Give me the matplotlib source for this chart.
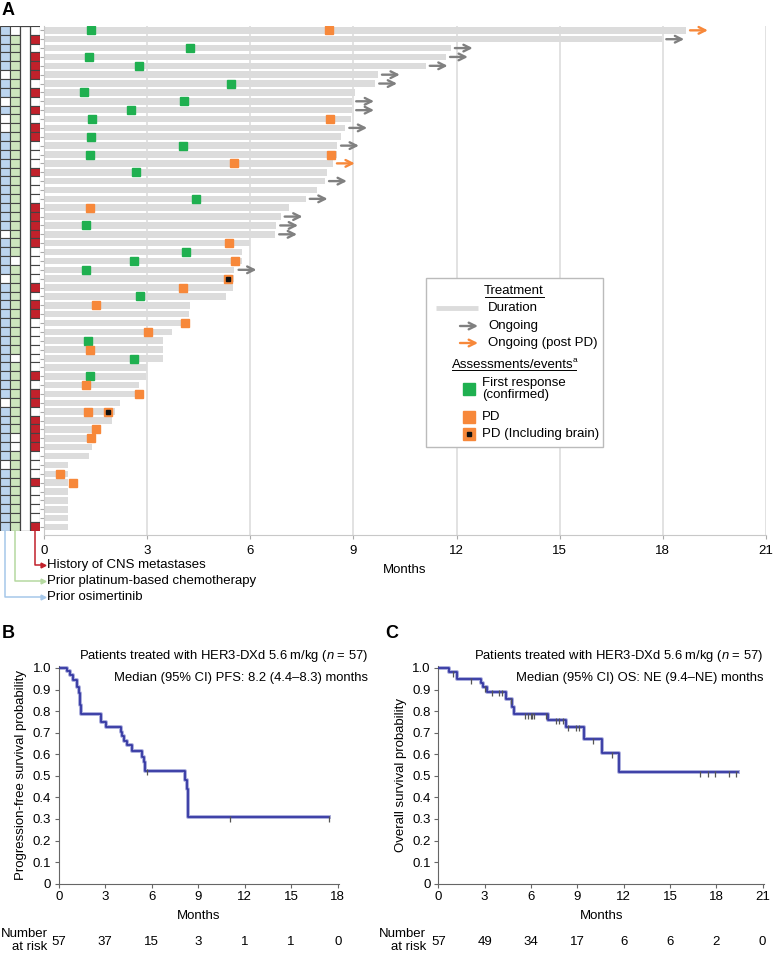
import numpy as np
import matplotlib.pyplot as plt
import matplotlib.transforms as mtransforms
from matplotlib.patches import Rectangle

plt.rcParams['font.family'] = ['Liberation Sans', 'DejaVu Sans']
plt.rcParams['mathtext.fontset'] = 'custom'
plt.rcParams['mathtext.rm'] = 'Liberation Sans'
plt.rcParams['mathtext.it'] = 'Liberation Sans:italic'

W, H = 775, 956

# ---------------- Panel A data (rows listed top to bottom) ----------------
duration = [18.67, 17.98, 11.83, 11.69, 11.10, 9.71, 9.63, 9.06, 8.96, 8.96,
            8.92, 8.76, 8.63, 8.52, 8.51, 8.40, 8.23, 8.17, 7.93, 7.61,
            7.12, 6.88, 6.75, 6.72, 5.99, 5.76, 5.76, 5.54, 5.54, 5.49,
            5.29, 4.24, 4.21, 4.20, 3.71, 3.45, 3.45, 3.45, 3.00, 2.96,
            2.75, 2.80, 2.20, 2.07, 1.98, 1.55, 1.45, 1.39, 1.32, 0.70,
            0.70, 0.70, 0.70, 0.70, 0.70, 0.70, 0.70]
# 'g' = ongoing, 'o' = ongoing post PD, '' = stopped
ongoing = ['o', 'g', 'g', 'g', 'g', 'g', 'g', '', 'g', 'g',
           '', 'g', '', 'g', '', 'o', '', 'g', '', 'g',
           '', 'g', 'g', 'g', '', '', '', 'g', '', '',
           '', '', '', '', '', '', '', '', '', '',
           '', '', '', '', '', '', '', '', '', '',
           '', '', '', '', '', '', '']
osimertinib = [1, 1, 1, 1, 1, 0, 1, 1, 0, 1, 0, 0, 1, 1, 1, 1, 1, 1, 1, 1,
               1, 1, 1, 0, 1, 1, 1, 1, 0, 1, 1, 1, 1, 1, 1, 1, 1, 1, 1, 1,
               1, 1, 0, 1, 1, 1, 1, 1, 1, 0, 1, 1, 1, 1, 1, 1, 1]
platinum = [0, 1, 1, 1, 1, 1, 1, 1, 1, 1, 1, 1, 1, 1, 1, 1, 1, 1, 1, 1,
            1, 1, 1, 1, 1, 1, 0, 1, 1, 1, 1, 1, 1, 1, 1, 1, 1, 0, 1, 1,
            1, 1, 1, 1, 1, 1, 0, 0, 1, 1, 1, 1, 1, 1, 1, 1, 1]
cns_history = [0, 1, 0, 1, 1, 1, 0, 1, 0, 1, 0, 1, 1, 0, 0, 0, 1, 0, 0, 0,
               1, 1, 1, 1, 1, 0, 0, 0, 0, 1, 0, 1, 1, 0, 0, 0, 0, 0, 0, 1,
               0, 1, 1, 0, 1, 1, 1, 1, 0, 0, 0, 1, 0, 0, 0, 0, 1]

resp_rows = [1, 3, 4, 5, 7, 8, 9, 10, 11, 13, 14, 15, 17, 20, 23, 26, 27, 28, 31, 36, 38, 40]
resp_months = [1.37, 4.24, 1.30, 2.75, 5.43, 1.17, 4.07, 2.52, 1.41, 1.37, 4.03, 1.34,
               2.69, 4.41, 1.23, 4.14, 2.62, 1.23, 2.79, 1.27, 2.62, 1.34]
pd_rows = [1, 11, 15, 16, 21, 25, 27, 30, 32, 34, 35, 37, 41, 42, 44, 46, 47, 51, 52]
pd_months = [8.30, 8.32, 8.34, 5.53, 1.34, 5.39, 5.56, 4.03, 1.50, 4.11, 3.02, 1.34,
             1.21, 2.75, 1.28, 1.50, 1.38, 0.47, 0.84]
brain_rows = [29, 44]
brain_months = [5.35, 1.86]

# ---------------- Panel B / C data ----------------
pfs_t = [0, 0.52, 0.73, 0.90, 1.16, 1.29, 1.38, 1.42, 2.71, 3.03, 4.00, 4.10, 4.24,
         4.39, 4.71, 5.40, 5.50, 5.59, 8.17, 8.28, 8.34, 17.46]
pfs_s = [1.0, 0.988, 0.968, 0.944, 0.913, 0.883, 0.828, 0.787, 0.750, 0.728, 0.703,
         0.685, 0.662, 0.641, 0.617, 0.589, 0.563, 0.524, 0.481, 0.439, 0.309, 0.309]
pfs_censor = [5.68, 11.05, 17.46]
pfs_risk = [57, 37, 15, 3, 1, 1, 0]

os_t = [0, 0.69, 1.19, 2.76, 2.91, 3.17, 4.36, 4.75, 4.90, 7.08, 8.27, 9.45, 10.58,
        11.72, 19.38]
os_s = [1.0, 0.982, 0.947, 0.930, 0.912, 0.890, 0.855, 0.820, 0.787, 0.760, 0.728,
        0.670, 0.605, 0.516, 0.516]
os_censor = [0.97, 2.1, 3.05, 3.5, 3.9, 4.15, 4.7, 5.6, 5.8, 6.0, 6.1, 6.2, 7.0, 7.6,
             7.8, 8.05, 8.4, 8.9, 9.1, 10.0, 11.25, 16.95, 17.45, 17.95, 18.8, 19.3]
os_risk = [57, 49, 34, 17, 6, 6, 2, 0]

C_BAR = '#dcdcdc'
C_GREEN = '#1fb050'
C_ORANGE = '#f7883a'
C_ARROW = '#808080'
C_BLUE_CELL = '#bcd5ef'
C_GREEN_CELL = '#cde5bd'
C_RED_CELL = '#c1212b'
C_KM = '#3538a3'
FS = 9.5

fig = plt.figure(figsize=(W / 100, H / 100), dpi=100)


def ax_px(left, top, right, bottom, **kw):
    return fig.add_axes([left / W, 1 - bottom / H, (right - left) / W, (bottom - top) / H], **kw)


# ---------------- Panel A: swimmer plot ----------------
n = len(duration)
rows = np.arange(1, n + 1)
axA = ax_px(44, 25.9, 766, 535)
axA.set_xlim(0, 21)
axA.set_ylim(57.9, 0.5)
axA.grid(axis='x', color='#dddddd', lw=1.2, zorder=0)
axA.set_axisbelow(True)
axA.barh(rows, duration, height=0.74, color=C_BAR, zorder=2)
axA.plot(resp_months, resp_rows, 's', color=C_GREEN, ms=6, zorder=3)
axA.plot(pd_months, pd_rows, 's', color=C_ORANGE, ms=6, zorder=3)
axA.plot(brain_months, brain_rows, 's', color=C_ORANGE, ms=6, zorder=3)
axA.plot(brain_months, brain_rows, 's', color='#111111', ms=2.6, zorder=4)
for r, d, g in zip(rows, duration, ongoing):
    if g:
        col = C_ORANGE if g == 'o' else C_ARROW
        axA.annotate('', xy=(d + 0.64, r), xytext=(d + 0.12, r),
                     arrowprops=dict(arrowstyle='->', color=col, lw=1.7,
                                     mutation_scale=12, shrinkA=0, shrinkB=0),
                     zorder=3)
axA.set_xticks(np.arange(0, 22, 3))
axA.set_yticks(rows)
axA.set_yticklabels([])
axA.tick_params(axis='y', length=3, color='#aaaaaa', width=0.8)
axA.tick_params(axis='x', length=3, color='#aaaaaa', labelsize=FS, pad=4)
for s in ['top', 'right']:
    axA.spines[s].set_visible(False)
for s in ['left', 'bottom']:
    axA.spines[s].set_color('#c8c8c8')
axA.set_xlabel('Months', fontsize=FS, labelpad=5)

# indicator columns
axI = ax_px(0, 25.9, 40, 530.7)
axI.set_xlim(0, 40)
axI.set_ylim(57.5, 0.5)
axI.axis('off')
for r, o, p, c in zip(rows, osimertinib, platinum, cns_history):
    axI.add_patch(Rectangle((0.4, r - 0.5), 9.1, 1, fc=C_BLUE_CELL if o else 'white',
                            ec='#444444', lw=0.8))
    axI.add_patch(Rectangle((9.5, r - 0.5), 10, 1, fc=C_GREEN_CELL if p else 'white',
                            ec='#444444', lw=0.8))
    axI.add_patch(Rectangle((30, r - 0.5), 9.6, 1, fc=C_RED_CELL if c else 'white',
                            ec='#444444', lw=0.8))
axI.add_patch(Rectangle((19.5, 0.5), 10.5, 57, fc='white', ec='#444444', lw=0.9))

# ---------------- overlay for annotations ----------------
ov = ax_px(0, 0, W, H, zorder=10)
ov.set_xlim(0, W)
ov.set_ylim(H, 0)
ov.axis('off')
ov.patch.set_alpha(0)

ov.text(2, 10, 'A', fontsize=13, fontweight='bold', va='center', ha='left')
ov.text(2, 634, 'B', fontsize=13, fontweight='bold', va='center', ha='left')
ov.text(385, 634, 'C', fontsize=13, fontweight='bold', va='center', ha='left')

connectors = [(35, 565, '#c1212b', 'History of CNS metastases'),
              (14.5, 581, '#b5d9a0', 'Prior platinum-based chemotherapy'),
              (5.3, 597, '#a6c8ea', 'Prior osimertinib')]
for x0, yy, col, lab in connectors:
    ov.plot([x0, x0, 42], [531, yy, yy], color=col, lw=1.1)
    ov.plot([42.5], [yy], '>', color=col, ms=3.5)
    ov.text(47, yy, lab, fontsize=FS, va='center', ha='left')

# legend box
ov.add_patch(Rectangle((426, 278), 177, 169, fc='white', ec='#bbbbbb', lw=1.0))
ov.text(514, 291, 'Treatment', fontsize=FS, ha='center', va='center')
ov.plot([485, 544], [297, 297], color='black', lw=0.7)
ov.plot([436, 478], [308, 308], color=C_BAR, lw=3.5, solid_capstyle='butt')
ov.text(488, 308, 'Duration', fontsize=FS, va='center')
ov.annotate('', xy=(478, 326), xytext=(460, 326),
            arrowprops=dict(arrowstyle='->', color=C_ARROW, lw=1.7, mutation_scale=12,
                            shrinkA=0, shrinkB=0))
ov.text(488, 326, 'Ongoing', fontsize=FS, va='center')
ov.annotate('', xy=(478, 343), xytext=(460, 343),
            arrowprops=dict(arrowstyle='->', color=C_ORANGE, lw=1.7, mutation_scale=12,
                            shrinkA=0, shrinkB=0))
ov.text(488, 343, 'Ongoing (post PD)', fontsize=FS, va='center')
ov.text(452, 365, 'Assessments/events', fontsize=FS, ha='left', va='center')
ov.text(573, 360, 'a', fontsize=6, ha='left', va='center')
ov.plot([452, 576], [370, 370], color='black', lw=0.7)
ov.plot([469], [389], 's', color=C_GREEN, ms=8.5)
ov.text(482, 389, 'First response\n(confirmed)', fontsize=FS, va='center', linespacing=1.1)
ov.plot([469], [417], 's', color=C_ORANGE, ms=8.5)
ov.text(482, 417, 'PD', fontsize=FS, va='center')
ov.plot([469], [434], 's', color=C_ORANGE, ms=8.5)
ov.plot([469], [434], 's', color='#111111', ms=3.2)
ov.text(482, 434, 'PD (Including brain)', fontsize=FS, va='center')


# ---------------- Panels B and C: KM curves ----------------
def km_panel(ax, t, s, cens, xmax, ylabel, risk):
    ax.step(t, s, where='post', color='#a9acdc', lw=2.8, zorder=2)
    ax.step(t, s, where='post', color=C_KM, lw=1.3, zorder=3)
    idx = np.searchsorted(t, cens, side='right') - 1
    ax.plot(cens, np.array(s)[idx] - 0.008, '|', color='#555555', ms=5, mew=0.9, zorder=4)
    ax.set_xlim(0, xmax + 0.1)
    ax.set_ylim(0, 1.01)
    ax.set_xticks(np.arange(0, xmax + 1, 3))
    ax.set_yticks(np.arange(0, 1.01, 0.1))
    ax.set_yticklabels(['0'] + ['%.1f' % v for v in np.arange(0.1, 1.01, 0.1)])
    ax.tick_params(length=3, color='#666666', labelsize=FS, pad=2.5)
    for sp in ['top', 'right']:
        ax.spines[sp].set_visible(False)
    for sp in ['left', 'bottom']:
        ax.spines[sp].set_color('#666666')
    ax.set_xlabel('Months', fontsize=FS, labelpad=5)
    ax.set_ylabel(ylabel, fontsize=FS, labelpad=4)
    tr = mtransforms.blended_transform_factory(ax.transData, fig.transFigure)
    for i, v in enumerate(risk):
        ax.text(3 * i, 1 - 942 / H, str(v), transform=tr, fontsize=FS,
                ha='center', va='center', clip_on=False)


axB = ax_px(58.7, 665.8, 58.7 + 15.5 * 18.1, 883.7)
km_panel(axB, pfs_t, pfs_s, pfs_censor, 18, 'Progression-free survival probability', pfs_risk)
axC = ax_px(438.3, 665.8, 438.3 + 15.44 * 21.1, 883.7)
km_panel(axC, os_t, os_s, os_censor, 21, 'Overall survival probability', os_risk)

ov.text(367.7, 655.7, 'Patients treated with HER3-DXd 5.6 m/kg ($n$ = 57)', fontsize=9.4,
        ha='right', va='center')
ov.text(367.7, 677.7, 'Median (95% CI) PFS: 8.2 (4.4–8.3) months', fontsize=9.4,
        ha='right', va='center')
ov.text(763.3, 655.7, 'Patients treated with HER3-DXd 5.6 m/kg ($n$ = 57)', fontsize=9.4,
        ha='right', va='center')
ov.text(763.3, 677.7, 'Median (95% CI) OS: NE (9.4–NE) months', fontsize=9.4,
        ha='right', va='center')
ov.text(47.7, 940.5, 'Number\nat risk', fontsize=FS, ha='right', va='center', linespacing=1.05)
ov.text(426, 940.5, 'Number\nat risk', fontsize=FS, ha='right', va='center', linespacing=1.05)

fig.savefig('out.png', dpi=100)
